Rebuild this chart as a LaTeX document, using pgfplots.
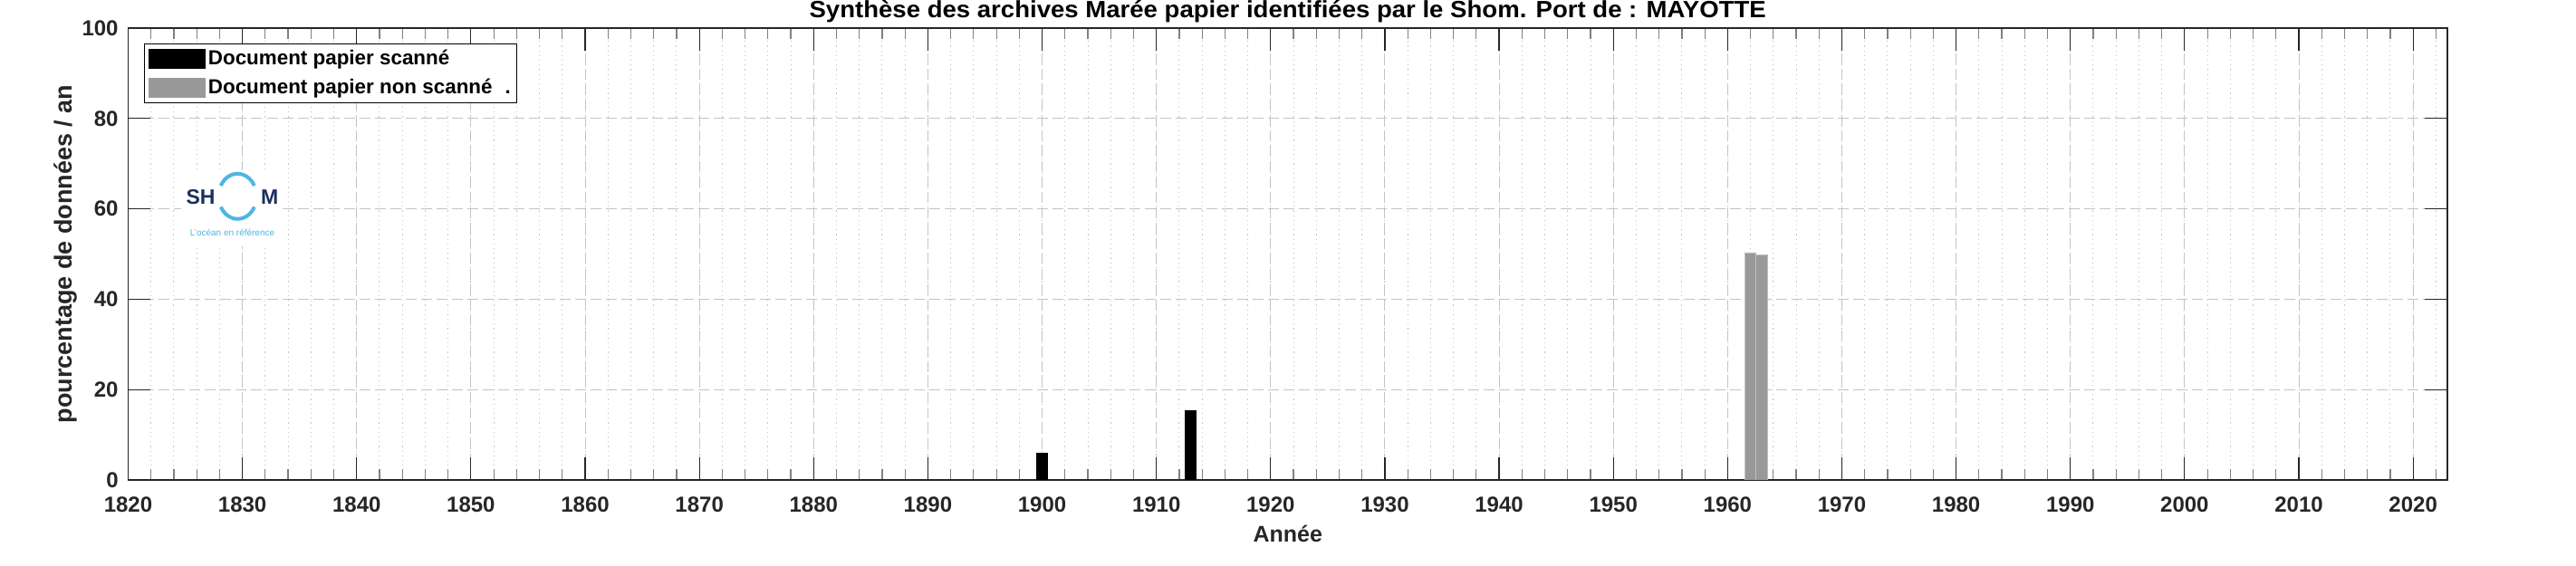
\documentclass[border=0pt]{standalone}
\usepackage{fontspec}
\setmainfont{Liberation Sans}
\newfontfamily\titlefont{Liberation Sans}[FakeStretch=1.06]
\usepackage{pgfplots}
\pgfplotsset{compat=1.18}
\definecolor{txt}{HTML}{262626}
\definecolor{gridc}{HTML}{C4C4C4}
\definecolor{barg}{HTML}{999999}
\definecolor{shomblue}{HTML}{1B2F5E}
\definecolor{shomcyan}{HTML}{4DB6E2}

\begin{document}
\begin{tikzpicture}
\path[use as bounding box] (-70.75pt,-47.5pt) rectangle (1351.25pt,265pt);
\begin{axis}[
  scale only axis,
  width=1280.25pt, height=249.5pt,
  at={(0,0)}, anchor=south west,
  xmin=1820, xmax=2023, ymin=0, ymax=100,
  xtick={1820,1830,...,2020},
  minor xtick={1822,1824,...,2022},
  ytick={0,20,...,100},
  yticklabels={},
  xmajorgrids, ymajorgrids, xminorgrids,
  major grid style={gridc, dash pattern=on 6pt off 2.5pt, line width=0.5pt},
  minor grid style={gridc, dash pattern=on 0.6pt off 2pt, line width=0.5pt},
  tick align=inside,
  major tick length=12.5pt, minor tick length=6pt,
  every tick/.style={txt, line width=0.6pt},
  every minor tick/.style={gray, line width=0.6pt},
  axis line style={txt, line width=0.6pt},
  /pgf/number format/assume math mode=true,
  /pgf/number format/set thousands separator={},
  tick label style={font=\fontsize{12}{14}\selectfont\bfseries, text=txt},
  xticklabel style={anchor=base, yshift=-18pt},
  every axis title shift=0pt,
  title={Synthèse des archives Marée papier identifiées par le Shom. Port de : MAYOTTE},
  title style={font=\titlefont\fontsize{13}{15}\selectfont\bfseries, at={(0.5,1)}, anchor=base, yshift=5.5pt},
  xlabel={Année},
  xlabel style={font=\fontsize{12.5}{15}\selectfont\bfseries, text=txt, at={(0.5,0)}, anchor=base, yshift=-34.5pt},
  ylabel={pourcentage de données / an},
  ylabel style={font=\fontsize{13.5}{15}\selectfont\bfseries, text=txt, at={(0,0.5)}, anchor=base, yshift=31pt},
  legend style={at={(0.007,0.966)}, anchor=north west, draw=black, line width=0.5pt,
    font=\fontsize{11.2}{13}\selectfont\bfseries, inner xsep=2pt, inner ysep=2pt,
    row sep=3pt, nodes={inner sep=1.5pt}},
  legend cell align=left,
]
\addplot[ybar, bar width=1, bar shift=0pt, fill=black, draw=black,
  legend image code/.code={\fill[black] (0pt,-5.25pt) rectangle (31pt,5.25pt);}]
  coordinates {(1900,6.0) (1913,15.4)};
\addlegendentry{Document papier scanné}
\addplot[ybar, bar width=1, bar shift=0pt, fill=barg, draw=gray!50,
  legend image code/.code={\fill[barg] (0pt,-5.25pt) rectangle (31pt,5.25pt);}]
  coordinates {(1962,50.3) (1963,49.8)};
\addlegendentry{Document papier non scanné\hspace{7pt}.\hspace{4pt}}
\end{axis}
% y tick labels (axis is 249.5pt tall for 0..100)
\foreach \v in {0,20,40,60,80,100}
  \node[anchor=east, inner sep=0pt, font=\fontsize{12}{14}\selectfont\bfseries, text=txt]
    at (-5.25pt,{\v*2.495pt}) {\v};
% logo Shom
\fill[white] (29.25pt,129pt) rectangle (85.25pt,171pt);
\node[font=\fontsize{11.5}{12}\selectfont\bfseries, text=shomblue] at (40pt,156.4pt) {SH};
\node[font=\fontsize{11.5}{12}\selectfont\bfseries, text=shomblue] at (78.1pt,156.4pt) {M};
\draw[shomcyan, line width=2pt] ([shift={(28:10.5pt and 12.5pt)}]60.4pt,156.6pt)
  arc[start angle=28, end angle=152, x radius=10.5pt, y radius=12.5pt];
\draw[shomcyan, line width=2pt] ([shift={(208:10.5pt and 12.5pt)}]60.4pt,156.6pt)
  arc[start angle=208, end angle=332, x radius=10.5pt, y radius=12.5pt];
\node[font=\fontsize{5}{6}\selectfont, text=shomcyan] at (57.5pt,136.6pt) {L'océan en référence};
\end{tikzpicture}
\end{document}
